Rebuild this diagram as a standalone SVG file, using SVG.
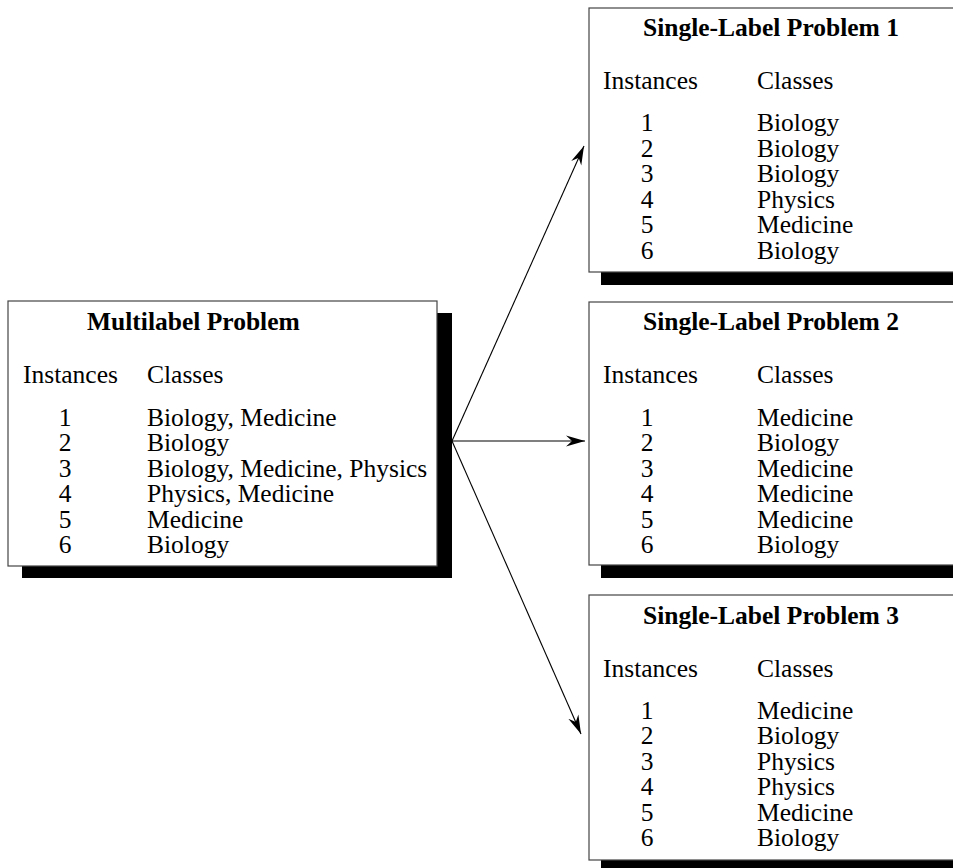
<svg xmlns="http://www.w3.org/2000/svg" width="953" height="868" viewBox="0 0 953 868">
<style>
.box{fill:#fff;stroke:#444;stroke-width:1.2}
.sh{fill:#000}
.t{font-family:"Liberation Serif","Times New Roman",serif;font-size:25.5px;fill:#000}
.b{font-weight:bold}
.n{text-anchor:middle}
.c{fill:none;stroke:#000;stroke-width:1.1}
</style>
<defs>
<marker id="ah" markerUnits="userSpaceOnUse" markerWidth="22" markerHeight="14" refX="19" refY="6" orient="auto">
<path d="M0,0.5 L19,6 L0,11.5 L6,6 z" fill="#000"/>
</marker>
</defs>
<rect width="953" height="868" fill="#fff"/>
<g id="connectors">
<line class="c" x1="452" y1="441" x2="584" y2="146" marker-end="url(#ah)"/>
<line class="c" x1="452" y1="441" x2="585" y2="441" marker-end="url(#ah)"/>
<line class="c" x1="452" y1="441" x2="581" y2="734" marker-end="url(#ah)"/>
</g>
<g id="multilabel">
<rect class="sh" x="22" y="313" width="430" height="265"/>
<rect class="box" x="8" y="301" width="429" height="265"/>
<text class="t b" x="87" y="330">Multilabel Problem</text>
<text class="t" x="23" y="383">Instances</text>
<text class="t" x="147" y="383">Classes</text>
<text class="t n" x="65" y="425.5">1</text>
<text class="t n" x="65" y="451">2</text>
<text class="t n" x="65" y="476.5">3</text>
<text class="t n" x="65" y="502">4</text>
<text class="t n" x="65" y="527.5">5</text>
<text class="t n" x="65" y="553">6</text>
<text class="t" x="147" y="425.5">Biology, Medicine</text>
<text class="t" x="147" y="451">Biology</text>
<text class="t" x="147" y="476.5">Biology, Medicine, Physics</text>
<text class="t" x="147" y="502">Physics, Medicine</text>
<text class="t" x="147" y="527.5">Medicine</text>
<text class="t" x="147" y="553">Biology</text>
</g>
<g id="single1">
<rect class="sh" x="601" y="20" width="430" height="265"/>
<rect class="box" x="589" y="8" width="429" height="264"/>
<text class="t b" x="643" y="36">Single-Label Problem 1</text>
<text class="t" x="603" y="89">Instances</text>
<text class="t" x="757" y="89">Classes</text>
<text class="t n" x="647" y="131">1</text>
<text class="t n" x="647" y="156.5">2</text>
<text class="t n" x="647" y="182">3</text>
<text class="t n" x="647" y="207.5">4</text>
<text class="t n" x="647" y="233">5</text>
<text class="t n" x="647" y="258.5">6</text>
<text class="t" x="757" y="131">Biology</text>
<text class="t" x="757" y="156.5">Biology</text>
<text class="t" x="757" y="182">Biology</text>
<text class="t" x="757" y="207.5">Physics</text>
<text class="t" x="757" y="233">Medicine</text>
<text class="t" x="757" y="258.5">Biology</text>
</g>
<g id="single2">
<rect class="sh" x="601" y="314" width="430" height="264"/>
<rect class="box" x="589" y="302" width="429" height="263"/>
<text class="t b" x="643" y="330">Single-Label Problem 2</text>
<text class="t" x="603" y="383">Instances</text>
<text class="t" x="757" y="383">Classes</text>
<text class="t n" x="647" y="425.5">1</text>
<text class="t n" x="647" y="451">2</text>
<text class="t n" x="647" y="476.5">3</text>
<text class="t n" x="647" y="502">4</text>
<text class="t n" x="647" y="527.5">5</text>
<text class="t n" x="647" y="553">6</text>
<text class="t" x="757" y="425.5">Medicine</text>
<text class="t" x="757" y="451">Biology</text>
<text class="t" x="757" y="476.5">Medicine</text>
<text class="t" x="757" y="502">Medicine</text>
<text class="t" x="757" y="527.5">Medicine</text>
<text class="t" x="757" y="553">Biology</text>
</g>
<g id="single3">
<rect class="sh" x="601" y="607" width="430" height="265"/>
<rect class="box" x="589" y="595" width="429" height="265"/>
<text class="t b" x="643" y="623.5">Single-Label Problem 3</text>
<text class="t" x="603" y="677">Instances</text>
<text class="t" x="757" y="677">Classes</text>
<text class="t n" x="647" y="718.5">1</text>
<text class="t n" x="647" y="744">2</text>
<text class="t n" x="647" y="769.5">3</text>
<text class="t n" x="647" y="795">4</text>
<text class="t n" x="647" y="820.5">5</text>
<text class="t n" x="647" y="846">6</text>
<text class="t" x="757" y="718.5">Medicine</text>
<text class="t" x="757" y="744">Biology</text>
<text class="t" x="757" y="769.5">Physics</text>
<text class="t" x="757" y="795">Physics</text>
<text class="t" x="757" y="820.5">Medicine</text>
<text class="t" x="757" y="846">Biology</text>
</g>
</svg>
